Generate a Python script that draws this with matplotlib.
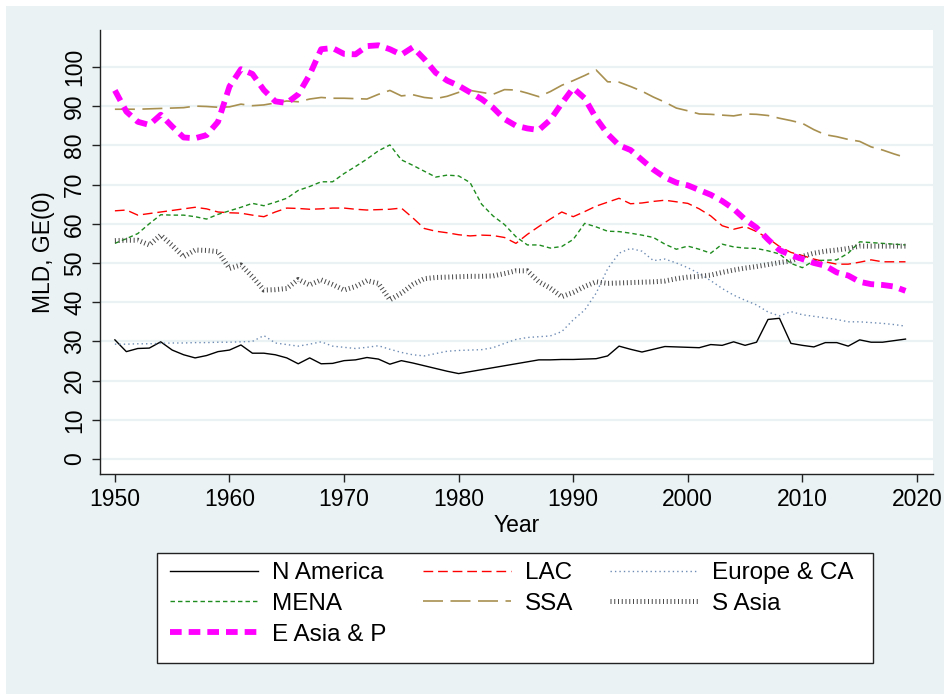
import matplotlib.pyplot as plt
from matplotlib.patches import Rectangle

plt.rcParams["font.family"] = ["Liberation Sans", "DejaVu Sans"]

years = list(range(1950, 2020))

n_america = [30.4, 27.4, 28.2, 28.3, 29.9, 27.8, 26.6, 25.8, 26.4, 27.4,
             27.8, 29.1, 27.0, 27.0, 26.6, 25.8, 24.3, 25.8, 24.3, 24.4,
             25.1, 25.3, 25.9, 25.5, 24.2, 25.1, 24.5, 23.8, 23.1, 22.4,
             21.8, 22.3, 22.8, 23.3, 23.8, 24.3, 24.8, 25.3, 25.3, 25.4,
             25.4, 25.5, 25.6, 26.3, 28.8, 28.0, 27.3, 28.0, 28.7, 28.6,
             28.5, 28.4, 29.2, 29.0, 29.9, 29.0, 29.8, 35.6, 35.9, 29.5,
             29.0, 28.6, 29.7, 29.7, 28.8, 30.4, 29.8, 29.8, 30.2, 30.6]

lac = [63.3, 63.5, 62.2, 62.6, 63.0, 63.4, 63.8, 64.2, 63.8, 63.0,
       62.8, 62.7, 62.2, 61.8, 63.0, 64.0, 63.9, 63.7, 63.8, 64.0,
       64.0, 63.7, 63.5, 63.6, 63.7, 64.0, 61.5, 58.8, 58.1, 57.7,
       57.2, 56.9, 57.1, 57.0, 56.5, 55.0, 57.3, 59.3, 61.2, 63.0,
       61.8, 63.1, 64.5, 65.5, 66.5, 65.1, 65.3, 65.7, 66.0, 65.6,
       65.2, 63.8, 62.0, 59.5, 58.6, 59.3, 58.0, 56.3, 54.2, 52.7,
       51.9, 51.0, 50.3, 49.7, 49.7, 50.2, 50.8, 50.3, 50.3, 50.3]

europe_ca = [29.3, 29.3, 29.4, 29.4, 29.5, 29.6, 29.6, 29.7, 29.7, 29.8,
             29.8, 29.9, 30.0, 31.5, 29.6, 29.2, 28.8, 29.3, 29.9, 28.8,
             28.5, 28.2, 28.5, 28.9, 28.0, 27.2, 26.6, 26.3, 26.9, 27.5,
             27.7, 27.8, 27.9, 28.4, 29.5, 30.5, 31.0, 31.2, 31.4, 32.5,
             35.5, 38.0, 42.3, 48.5, 52.5, 53.7, 53.0, 50.6, 51.0, 50.0,
             48.8, 47.3, 45.5, 43.5, 41.8, 40.5, 39.3, 37.5, 36.5, 37.6,
             36.8, 36.4, 36.0, 35.6, 35.0, 35.0, 34.8, 34.6, 34.3, 33.9]

mena = [55.0, 56.2, 57.5, 60.0, 62.3, 62.2, 62.2, 61.8, 61.2, 62.4,
        63.3, 64.2, 65.2, 64.6, 65.5, 66.5, 68.5, 69.5, 70.7, 70.7,
        72.8, 74.6, 76.5, 78.6, 80.1, 76.3, 74.9, 73.4, 71.9, 72.4,
        72.2, 70.5, 65.0, 62.0, 59.8, 56.7, 54.6, 54.6, 53.8, 54.2,
        56.0, 60.1, 59.2, 58.1, 58.0, 57.6, 57.1, 56.5, 54.8, 53.5,
        54.3, 53.5, 52.5, 54.8, 54.1, 53.8, 53.7, 53.1, 52.3, 49.9,
        48.8, 50.6, 50.7, 50.8, 52.5, 55.4, 55.2, 55.0, 54.8, 54.6]

ssa = [89.2, 89.2, 89.2, 89.3, 89.4, 89.5, 89.6, 90.0, 89.9, 89.7,
       89.8, 90.5, 90.1, 90.3, 90.8, 91.3, 91.1, 91.8, 92.2, 92.0,
       92.0, 91.9, 91.8, 93.0, 94.0, 92.6, 92.9, 92.2, 91.9, 92.5,
       93.5, 94.0, 93.5, 93.0, 94.2, 94.1, 93.3, 92.4, 93.7, 95.3,
       96.5, 97.8, 99.2, 96.2, 96.1, 95.0, 93.8, 92.3, 91.0, 89.5,
       88.8, 88.0, 87.9, 87.7, 87.5, 88.0, 87.9, 87.6, 86.9, 86.3,
       85.6, 84.0, 82.7, 82.2, 81.5, 81.0, 79.6, 78.8, 77.8, 76.9]

s_asia = [55.7, 55.8, 55.8, 54.6, 57.1, 54.5, 51.6, 53.3, 53.2, 52.9,
          48.6, 49.5, 46.5, 43.1, 43.2, 43.5, 45.8, 44.4, 45.7, 44.5,
          43.1, 44.0, 45.5, 44.8, 40.6, 42.3, 44.5, 46.0, 46.3, 46.4,
          46.5, 46.6, 46.6, 46.7, 47.3, 48.0, 48.0, 45.2, 43.6, 41.4,
          42.5, 44.0, 45.2, 44.8, 44.9, 45.0, 45.1, 45.2, 45.4, 46.0,
          46.4, 46.6, 46.9, 47.6, 48.2, 48.7, 49.1, 49.6, 50.1, 50.5,
          51.7, 52.5, 53.0, 53.3, 53.7, 54.3, 54.3, 54.3, 54.3, 54.3]

e_asia = [94.0, 88.6, 86.0, 85.2, 87.8, 84.8, 82.0, 81.8, 82.6, 86.0,
          95.0, 99.4, 98.2, 94.1, 91.2, 90.8, 93.0, 98.0, 104.5, 104.8,
          103.3, 103.2, 105.3, 105.5, 104.5, 103.1, 105.0, 102.0, 98.5, 96.5,
          95.2, 93.5, 91.8, 89.6, 86.7, 85.0, 84.3, 83.9, 86.5, 90.7,
          94.6, 92.0, 86.9, 82.9, 80.0, 78.8, 76.3, 73.8, 71.8, 70.5,
          69.8, 68.6, 67.4, 65.8, 63.8, 61.1, 59.0, 56.0, 53.3, 52.0,
          51.0, 50.0, 49.3, 47.6, 46.8, 45.2, 44.6, 44.4, 44.0, 42.9]

bg = "#EAF2F3"

fig = plt.figure(figsize=(9.45, 6.94), dpi=100, facecolor="white")
# Stata-like graph region (thin white margin on top/left)
fig.patches.append(Rectangle((6 / 945, 0), 1, 1 - 6 / 694, transform=fig.transFigure,
                             facecolor=bg, edgecolor="none", zorder=-10))

ax = fig.add_axes([100 / 945, 1 - 474 / 694, 833 / 945, 444 / 694])
ax.set_facecolor("white")

ax.plot(years, n_america, color="black", lw=1.0, label="N America")
ax.plot(years, lac, color="#FF0000", lw=1.0, dashes=(7, 3.5), label="LAC")
ax.plot(years, europe_ca, color="#6E8CB4", lw=1.0, dashes=(1, 2.2), label="Europe & CA")
ax.plot(years, mena, color="#1E8C1E", lw=1.0, dashes=(3.2, 2.2), label="MENA")
ax.plot(years, ssa, color="#A89050", lw=1.2, dashes=(12, 4.5), label="SSA")
ax.plot(years, s_asia, color="#4A4A4A", lw=3.6, dashes=(0.2, 0.55),
        solid_capstyle="butt", dash_capstyle="butt", label="S Asia")
ax.plot(years, e_asia, color="#FF00FF", lw=4.2, dashes=(2.0, 1.2),
        dash_capstyle="butt", label="E Asia & P")

ax.set_xlim(1948.7, 2021.4)
ax.set_ylim(-3.8, 109.4)
ax.set_xticks(range(1950, 2021, 10))
ax.set_yticks(range(0, 101, 10))
ax.grid(axis="y", color=bg, lw=1.6)
ax.set_axisbelow(True)

for s in ["top", "right"]:
    ax.spines[s].set_visible(False)
for s in ["left", "bottom"]:
    ax.spines[s].set_color("#222222")
    ax.spines[s].set_linewidth(1.0)

ax.tick_params(axis="both", length=6, width=1.0, color="#222222", labelsize=16.5, pad=4)
for lbl in ax.get_yticklabels():
    lbl.set_rotation(90)
    lbl.set_va("center")

ax.set_xlabel("Year", fontsize=16.5, labelpad=2)
ax.set_ylabel("MLD, GE(0)", fontsize=16.5, labelpad=6)

# legend box
fig.patches.append(Rectangle((157 / 945, 1 - 663 / 694), 716 / 945, 110 / 694,
                             transform=fig.transFigure, facecolor="white",
                             edgecolor="#222222", lw=1.0, zorder=1))
handles, labels = ax.get_legend_handles_labels()
# row-wise order for 3 columns: NA LAC Europe / MENA SSA S Asia / E Asia
order = [0, 3, 6, 1, 4, 2, 5]
leg = fig.legend([handles[i] for i in order], [labels[i] for i in order],
                 loc="upper left", bbox_to_anchor=(170 / 945, 1 - 562 / 694),
                 ncol=3, frameon=False, fontsize=17.5, handlelength=3.62,
                 handletextpad=0.58, columnspacing=1.5, labelspacing=0.36,
                 borderpad=0, borderaxespad=0)
leg.set_zorder(2)

fig.savefig("out.png", dpi=100)
